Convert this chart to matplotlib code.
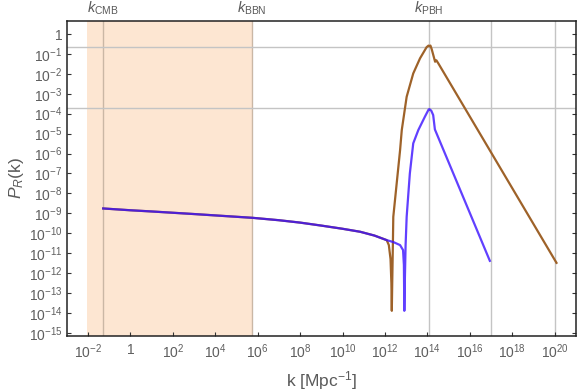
import numpy as np
import matplotlib
matplotlib.use('Agg')
from matplotlib import pyplot as plt

plt.rcParams['font.family'] = ['Liberation Sans', 'DejaVu Sans']
plt.rcParams['mathtext.fontset'] = 'custom'
plt.rcParams['mathtext.rm'] = 'Liberation Sans'
plt.rcParams['mathtext.it'] = 'Liberation Sans:italic'

# ---- data (log10 values) ----
# shared low-k part of both spectra
logk_common = [-1.28, 0.0, 1.0, 3.0, 5.76, 7.0, 8.0, 9.0, 10.0, 10.83, 11.5, 12.08]
logP_common = [-8.76, -8.85, -8.91, -9.04, -9.23, -9.35, -9.47, -9.62, -9.78, -9.93, -10.12, -10.35]

# brown spectrum beyond the common part
logk_brown = [12.18, 12.26, 12.30, 12.32, 12.34, 12.37, 12.39, 12.55, 12.71, 12.79, 13.02,
              13.33, 13.65, 13.96, 14.05, 14.09, 14.14, 14.2, 14.36, 14.42, 14.51, 20.08]
logP_brown = [-10.6, -11.3, -12.5, -13.9, -12.5, -10.6, -9.18, -7.5, -5.83, -4.82, -3.15,
              -1.98, -1.22, -0.66, -0.58, -0.62, -0.58, -0.76, -1.39, -1.32, -1.47, -11.49]

# blue spectrum beyond the common part
logk_blue = [12.4, 12.71, 12.85, 12.89, 12.91, 12.93, 12.95, 12.97, 13.02, 13.17, 13.33,
             13.57, 13.88, 14.05, 14.09, 14.18, 14.27, 14.35, 16.94]
logP_blue = [-10.45, -10.6, -10.85, -11.6, -13.9, -12.6, -11.6, -10.6, -9.18, -7.0, -5.49,
             -4.82, -4.15, -3.8, -3.77, -3.85, -4.07, -4.79, -11.39]

# reference lines
k_marks = [0.052, 5.2e5, 1.2e14]
k_mark_labels = [r'$k_{\mathrm{CMB}}$', r'$k_{\mathrm{BBN}}$', r'$k_{\mathrm{PBH}}$']
k_extra = [1e17, 1e20]
P_lines = [0.23, 1.9e-4]
shade_range = [10**-2.06, 10**5.77]

xticks = [10.0**e for e in range(-2, 21, 2)]
xticklabels = ['$10^{-2}$', '1'] + ['$10^{%d}$' % e for e in range(2, 21, 2)]
yticks = [10.0**e for e in range(0, -16, -1)]
yticklabels = ['1'] + ['$10^{%d}$' % e for e in range(-1, -16, -1)]


def main():
    fig = plt.figure(figsize=(5.81, 3.92), dpi=100)
    ax = fig.add_axes([0.1148, 0.1436, 0.9914 - 0.1148, 0.9472 - 0.1436])
    ax.set_xscale('log')
    ax.set_yscale('log')
    ax.set_xlim(1e-3, 1e21)
    ax.set_ylim(10**-15.15, 10**0.67)

    ax.axvspan(shade_range[0], shade_range[1], color='#fde6d2', lw=0, zorder=0)
    grid_c = '#c4c4c4'
    for k in k_marks[:2]:
        ax.axvline(k, color='#a89888', lw=1.0, alpha=0.6, zorder=1)
    for k in k_marks[2:] + k_extra:
        ax.axvline(k, color=grid_c, lw=1.0, zorder=1)
    for p in P_lines:
        ax.axhline(p, color=grid_c, lw=1.0, zorder=1)

    kb = 10.0 ** np.array(logk_common + logk_brown)
    pb = 10.0 ** np.array(logP_common + logP_brown)
    kbl = 10.0 ** np.array(logk_common + logk_blue)
    pbl = 10.0 ** np.array(logP_common + logP_blue)
    ax.plot(kb, pb, color='#9e6229', lw=1.6, zorder=3)
    ax.plot(kbl, pbl, color='#3a10ff', lw=1.6, alpha=0.8, zorder=4)

    for k, lab in zip(k_marks, k_mark_labels):
        ax.text(k, 1.012, lab, transform=ax.get_xaxis_transform(), ha='center', va='bottom',
                fontsize=10.5, color='#5a5a5a')

    ax.set_xticks(xticks)
    ax.set_xticklabels(xticklabels)
    ax.set_yticks(yticks)
    ax.set_yticklabels(yticklabels)
    ax.minorticks_off()
    ax.tick_params(direction='in', length=3, width=0.8, colors='#333333', labelcolor='#5e5e5e',
                   labelsize=10, right=True, top=False)
    ax.tick_params(axis='x', pad=5)
    ax.tick_params(axis='y', pad=3)
    for s in ax.spines.values():
        s.set_color('#222222')
        s.set_linewidth(1.1)

    ax.set_xlabel(r'k [Mpc$^{-1}$]', fontsize=12.5, color='#5a5a5a', labelpad=6)
    ax.set_ylabel(r'$P_{R}$(k)', fontsize=12.5, color='#5a5a5a', labelpad=2)

    fig.savefig('out.png', dpi=100)


if __name__ == "__main__":
    main()
